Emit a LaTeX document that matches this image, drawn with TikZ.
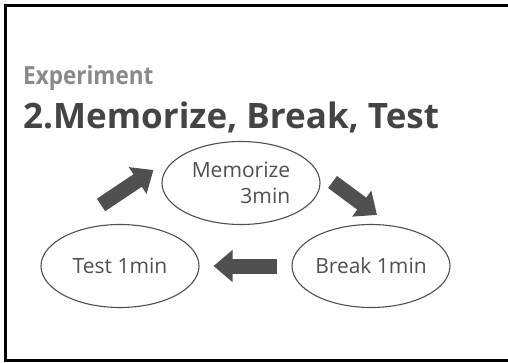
\documentclass[tikz,border=0pt]{standalone}
\usepackage{fontspec}
\setmainfont{Open Sans}
\usetikzlibrary{shapes.geometric,arrows.meta}
\definecolor{slidegray}{HTML}{8A8A8A}
\definecolor{titlegray}{HTML}{444444}
\definecolor{inkgray}{HTML}{505050}
\tikzset{
  stage/.style={ellipse, draw=inkgray, line width=1.1pt, text=inkgray,
    minimum width=158pt, minimum height=83pt, inner sep=0pt,
    font=\fontsize{21}{26}\selectfont},
  bigarrow/.style={draw=inkgray, line width=15pt,
    -{Triangle[length=19pt, width=31pt]}}
}
\begin{document}
\begin{tikzpicture}[x=1pt, y=-1pt]
        \useasboundingbox (0,0) rectangle (508,362);
        \fill[white] (0,0) rectangle (508,362);
        \draw[black, line width=3pt] (5.5,5.5) rectangle (512,360.5);
        \node[anchor=base west, text=slidegray, inner sep=0pt] (kicker) at (23,84)
            {\scalebox{0.9}[1]{\fontsize{25}{30}\selectfont\bfseries Experiment}};
        \node[anchor=base west, text=titlegray, inner sep=0pt,
            font=\fontsize{35}{40}\selectfont\bfseries] (title) at (23,128)
            {2.Memorize, Break, Test};
        \node[stage, align=right] (memo) at (241,183) {Memorize\\3min};
        \node[stage] (test) at (120,266) {Test 1min};
        \node[stage] (brk) at (371,266) {Break 1min};
        \draw[bigarrow] ([xshift=-19pt,yshift=19pt]test.north)
            -- ([xshift=-8pt,yshift=13pt]memo.west);
        \draw[bigarrow] ([xshift=12pt,yshift=1pt]memo.east)
            -- ([xshift=6pt,yshift=9pt]brk.north);
        \draw[bigarrow] ([xshift=-14pt]brk.west) -- ([xshift=14pt]test.east);
    \end{tikzpicture}
\end{document}
